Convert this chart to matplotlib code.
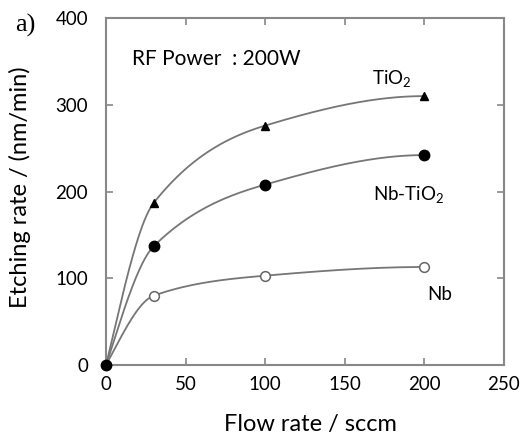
import numpy as np
import matplotlib
matplotlib.use("Agg")
import matplotlib.pyplot as plt

flow = [0, 30, 100, 200]
tio2 = [0, 187, 276, 310]
nbtio2 = [0, 137, 208, 242]
nb = [0, 80, 103, 113]

xticks = [0, 50, 100, 150, 200, 250]
yticks = [0, 100, 200, 300, 400]


def pchip(x, y, xs):
    x = np.asarray(x, float); y = np.asarray(y, float)
    h = np.diff(x); d = np.diff(y) / h
    m = np.zeros_like(y)
    for k in range(1, len(x) - 1):
        if d[k - 1] * d[k] > 0:
            w1 = 2 * h[k] + h[k - 1]; w2 = h[k] + 2 * h[k - 1]
            m[k] = (w1 + w2) / (w1 / d[k - 1] + w2 / d[k])
    m[0] = ((2 * h[0] + h[1]) * d[0] - h[0] * d[1]) / (h[0] + h[1])
    m[-1] = ((2 * h[-1] + h[-2]) * d[-1] - h[-1] * d[-2]) / (h[-1] + h[-2])
    if np.sign(m[-1]) != np.sign(d[-1]):
        m[-1] = 0
    out = np.empty_like(xs)
    for i, xv in enumerate(xs):
        k = min(np.searchsorted(x, xv, side='right') - 1, len(x) - 2)
        k = max(k, 0)
        t = (xv - x[k]) / h[k]
        h00 = 2 * t**3 - 3 * t**2 + 1; h10 = t**3 - 2 * t**2 + t
        h01 = -2 * t**3 + 3 * t**2; h11 = t**3 - t**2
        out[i] = h00 * y[k] + h10 * h[k] * m[k] + h01 * y[k + 1] + h11 * h[k] * m[k + 1]
    return out


plt.rcParams['font.family'] = ['Lato', 'DejaVu Sans']
plt.rcParams['mathtext.fontset'] = 'custom'
plt.rcParams['mathtext.rm'] = 'Lato'
fig = plt.figure(figsize=(5.28, 4.33), dpi=100)
ax = fig.add_axes([0.2008, 0.157, 0.7537, 0.8014])

xs = np.linspace(0, 200, 300)
lc = '#767676'
for ys in (tio2, nbtio2, nb):
    ax.plot(xs, pchip(flow, ys, xs), color=lc, lw=1.3, zorder=2)

ax.plot(flow[1:], tio2[1:], ls='none', marker='^', ms=5.5, color='black', zorder=3)
ax.plot(flow[1:], nbtio2[1:], ls='none', marker='o', ms=7.5, color='black', zorder=3)
ax.plot(flow[1:], nb[1:], ls='none', marker='o', ms=7, mfc='white', mec='#666666', mew=1.1, zorder=3)
ax.plot([flow[0]], [nb[0]], ls='none', marker='o', ms=7.5, color='black', zorder=4, clip_on=False)

ax.set_xlim(0, 250)
ax.set_ylim(0, 400)
ax.set_xticks(xticks)
ax.set_yticks(yticks)
ax.tick_params(direction='in', length=5, width=1.2, color='#888888', labelsize=13.5,
               top=True, right=True)
ax.tick_params(axis='x', pad=8)
ax.tick_params(axis='y', pad=13)
for s in ax.spines.values():
    s.set_color('#888888'); s.set_linewidth(1.5)

fig.text(310 / 528, 1 - 424 / 433, 'Flow rate / sccm', fontsize=17, ha='center', va='center')
fig.text(20 / 528, 1 - 187 / 433, 'Etching rate / (nm/min)', fontsize=17, rotation=90,
         ha='center', va='center')

ax.text(16.5, 353, 'RF Power  : 200W', fontsize=15, va='center')
ax.text(167, 329, r'TiO$_\mathrm{2}$', fontsize=13.5, va='center')
ax.text(167.7, 196, r'Nb-TiO$_\mathrm{2}$', fontsize=13.5, va='center')
ax.text(201.5, 81, 'Nb', fontsize=13.5, va='center')

fig.text(25 / 528, 1 - 25 / 433, 'a)', fontsize=19, family='Liberation Serif',
         ha='center', va='center')

fig.savefig('out.png', dpi=100)
